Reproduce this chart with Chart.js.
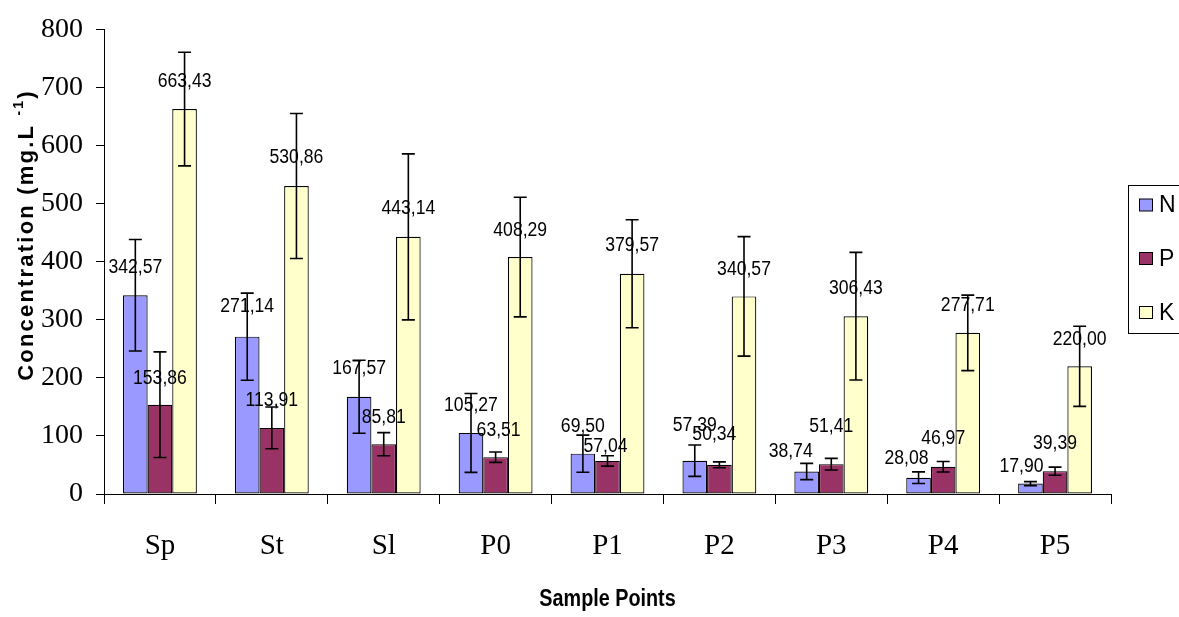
<!DOCTYPE html>
<html>
<head>
<meta charset="utf-8">
<script src="https://cdn.jsdelivr.net/npm/chart.js@4.4.0/dist/chart.umd.min.js"></script>
<style>
  body { margin: 0; background: #ffffff; }
  #wrap { width: 1179px; height: 617px; position: relative; }
</style>
</head>
<body>
<div id="wrap"><canvas id="nutrientChart"></canvas></div>
<script>
const samplePoints = ['Sp', 'St', 'Sl', 'P0', 'P1', 'P2', 'P3', 'P4', 'P5'];
const seriesNames = ['N', 'P', 'K'];

const nValues = [342.57, 271.14, 167.57, 105.27, 69.50, 57.39, 38.74, 28.08, 17.90];
const pValues = [153.86, 113.91, 85.81, 63.51, 57.04, 50.34, 51.41, 46.97, 39.39];
const kValues = [663.43, 530.86, 443.14, 408.29, 379.57, 340.57, 306.43, 277.71, 220.00];

const nErrors = [96, 75, 63, 68, 32, 27, 14, 10, 3.5];
const pErrors = [91, 36, 20, 9, 9, 5, 10, 9, 7];
const kErrors = [98, 125, 143, 103, 93, 103, 110, 65, 69];

const yTicks = [0, 100, 200, 300, 400, 500, 600, 700, 800];

const seriesColors = ['#9999ff', '#993366', '#ffffcc'];

// label placement (px above bar top, px sideways), by dataset
const labelLift = [
    [28, 30, 28, 27, 27, 35, 20, 19, 17],
    [26, 27, 27, 27, 14, 30, 38, 28, 28],
    [28, 28, 28, 27, 28, 27, 28, 27, 27]
];
const labelShift = [
    [0, 0, 0, 0, 0, 0, -16, -12, -9],
    [0, 0, 0, 3, -2, -5, 0, 0, 0],
    [0, 0, 0, 0, 0, 0, 0, 0, 0]
];

const serifFont = "'Times New Roman', 'Liberation Serif', serif";
const sansFont = "Arial, 'Liberation Sans', sans-serif";

function formatValue(v) {
    return v.toFixed(2).replace('.', ',');
}

const errorBarsAndLabels = {
    id: 'errorBarsAndLabels',
    afterDatasetsDraw(chart) {
        const ctx = chart.ctx;
        const yScale = chart.scales.y;
        chart.data.datasets.forEach((ds, di) => {
            const meta = chart.getDatasetMeta(di);
            meta.data.forEach((bar, i) => {
                const v = ds.data[i];
                const e = ds.errors[i];

                // value label
                ctx.save();
                ctx.translate(bar.x + labelShift[di][i], bar.y - labelLift[di][i]);
                ctx.scale(0.88, 1);
                ctx.font = '20px ' + sansFont;
                ctx.fillStyle = '#000';
                ctx.textAlign = 'center';
                ctx.textBaseline = 'middle';
                ctx.fillText(formatValue(v), 0, 0);
                ctx.restore();

                // error bar
                const top = yScale.getPixelForValue(v + e);
                const bottom = yScale.getPixelForValue(v - e);
                ctx.save();
                ctx.strokeStyle = '#000';
                ctx.lineWidth = 1.6;
                ctx.beginPath();
                ctx.moveTo(bar.x, top);
                ctx.lineTo(bar.x, bottom);
                ctx.moveTo(bar.x - 6.5, top);
                ctx.lineTo(bar.x + 6.5, top);
                ctx.moveTo(bar.x - 6.5, bottom);
                ctx.lineTo(bar.x + 6.5, bottom);
                ctx.stroke();
                ctx.restore();
            });
        });
    }
};

const titlesAndLegend = {
    id: 'titlesAndLegend',
    afterDraw(chart) {
        const ctx = chart.ctx;
        const area = chart.chartArea;

        // rotated y axis title with spaced letters
        ctx.save();
        ctx.fillStyle = '#000';
        ctx.translate(33, 235);
        ctx.rotate(-Math.PI / 2);
        ctx.textBaseline = 'alphabetic';
        ctx.textAlign = 'left';
        const mainFont = 'bold 22px ' + sansFont;
        const supFont = 'bold 14px ' + sansFont;
        ctx.letterSpacing = '2.2px';
        ctx.font = mainFont;
        const partA = 'Concentration (mg.L ';
        const wA = ctx.measureText(partA).width;
        ctx.font = supFont;
        const wS = ctx.measureText('-1').width;
        ctx.font = mainFont;
        const wC = ctx.measureText(')').width;
        let x = -(wA + wS + wC) / 2;
        ctx.fillText(partA, x, 0);
        x += wA;
        ctx.font = supFont;
        ctx.fillText('-1', x, -10);
        x += wS;
        ctx.font = mainFont;
        ctx.fillText(')', x, 0);
        ctx.restore();

        // x axis title, narrow like the original
        ctx.save();
        ctx.translate((area.left + area.right) / 2, 600);
        ctx.scale(0.86, 1);
        ctx.font = 'bold 23px ' + sansFont;
        ctx.fillStyle = '#000';
        ctx.textAlign = 'center';
        ctx.textBaseline = 'middle';
        ctx.fillText('Sample Points', 0, 0);
        ctx.restore();

        // legend box (runs off the right edge like the original)
        ctx.save();
        ctx.strokeStyle = '#000';
        ctx.lineWidth = 1;
        ctx.strokeRect(1128.5, 185.5, 120, 148);
        const rowY = [205, 258.5, 312.5];
        seriesNames.forEach((name, i) => {
            ctx.fillStyle = seriesColors[i];
            ctx.fillRect(1139.5, rowY[i] - 6, 13, 12);
            ctx.strokeRect(1139.5, rowY[i] - 6, 13, 12);
            ctx.fillStyle = '#000';
            ctx.font = '23px ' + sansFont;
            ctx.textAlign = 'left';
            ctx.textBaseline = 'middle';
            ctx.fillText(name, 1159, rowY[i] + 1);
        });
        ctx.restore();
    }
};

function createNutrientChart() {
    const chartCtx = document.getElementById('nutrientChart').getContext('2d');

    const valueSets = [nValues, pValues, kValues];
    const errorSets = [nErrors, pErrors, kErrors];

    const chartConfig = {
        type: 'bar',
        data: {
            labels: samplePoints,
            datasets: seriesNames.map((name, i) => ({
                label: name,
                data: valueSets[i],
                errors: errorSets[i],
                backgroundColor: seriesColors[i],
                borderColor: '#000',
                borderWidth: 1.2,
                borderSkipped: false,
                categoryPercentage: 0.66,
                barPercentage: 1.0
            }))
        },
        options: {
            responsive: true,
            maintainAspectRatio: false,
            animation: false,
            layout: {
                padding: { left: 0, right: 68, top: 25, bottom: 0 }
            },
            plugins: {
                legend: { display: false },
                tooltip: { enabled: false }
            },
            scales: {
                x: {
                    grid: {
                        drawOnChartArea: false,
                        drawTicks: true,
                        tickLength: 10,
                        color: '#000',
                        offset: true
                    },
                    border: { color: '#000', width: 1 },
                    ticks: {
                        color: '#000',
                        font: { family: serifFont, size: 29 },
                        padding: 25,
                        maxRotation: 0
                    },
                    afterFit(scale) { scale.height = 123; }
                },
                y: {
                    min: yTicks[0],
                    max: yTicks[yTicks.length - 1],
                    grid: {
                        drawOnChartArea: false,
                        drawTicks: true,
                        tickLength: 8,
                        color: '#000'
                    },
                    border: { color: '#000', width: 1 },
                    ticks: {
                        stepSize: yTicks[1] - yTicks[0],
                        color: '#000',
                        font: { family: serifFont, size: 28 },
                        padding: 13
                    },
                    afterFit(scale) { scale.width = 104; }
                }
            }
        },
        plugins: [errorBarsAndLabels, titlesAndLegend]
    };

    new Chart(chartCtx, chartConfig);
}

createNutrientChart();
</script>
</body>
</html>
